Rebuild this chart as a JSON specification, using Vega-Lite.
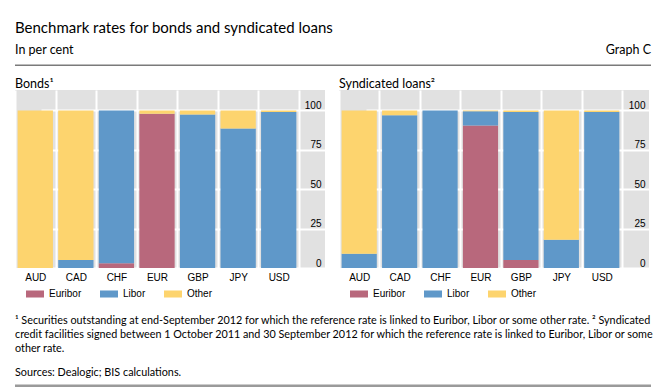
{
  "$schema": "https://vega.github.io/schema/vega-lite/v6.json",
  "padding": {"left": 15, "top": 20, "right": 5, "bottom": 0},
  "background": "white",
  "datasets": {
    "bonds": [
      {"currency": "AUD", "rate": "Euribor", "share": 0},
      {"currency": "AUD", "rate": "Libor", "share": 0},
      {"currency": "AUD", "rate": "Other", "share": 100},
      {"currency": "CAD", "rate": "Euribor", "share": 0},
      {"currency": "CAD", "rate": "Libor", "share": 5},
      {"currency": "CAD", "rate": "Other", "share": 95},
      {"currency": "CHF", "rate": "Euribor", "share": 3},
      {"currency": "CHF", "rate": "Libor", "share": 97},
      {"currency": "CHF", "rate": "Other", "share": 0},
      {"currency": "EUR", "rate": "Euribor", "share": 98},
      {"currency": "EUR", "rate": "Libor", "share": 0},
      {"currency": "EUR", "rate": "Other", "share": 2},
      {"currency": "GBP", "rate": "Euribor", "share": 0},
      {"currency": "GBP", "rate": "Libor", "share": 97.5},
      {"currency": "GBP", "rate": "Other", "share": 2.5},
      {"currency": "JPY", "rate": "Euribor", "share": 0},
      {"currency": "JPY", "rate": "Libor", "share": 88.5},
      {"currency": "JPY", "rate": "Other", "share": 11.5},
      {"currency": "USD", "rate": "Euribor", "share": 0},
      {"currency": "USD", "rate": "Libor", "share": 99},
      {"currency": "USD", "rate": "Other", "share": 1}
    ],
    "loans": [
      {"currency": "AUD", "rate": "Euribor", "share": 0},
      {"currency": "AUD", "rate": "Libor", "share": 9},
      {"currency": "AUD", "rate": "Other", "share": 91},
      {"currency": "CAD", "rate": "Euribor", "share": 0},
      {"currency": "CAD", "rate": "Libor", "share": 97},
      {"currency": "CAD", "rate": "Other", "share": 3},
      {"currency": "CHF", "rate": "Euribor", "share": 0},
      {"currency": "CHF", "rate": "Libor", "share": 100},
      {"currency": "CHF", "rate": "Other", "share": 0},
      {"currency": "EUR", "rate": "Euribor", "share": 90.5},
      {"currency": "EUR", "rate": "Libor", "share": 9},
      {"currency": "EUR", "rate": "Other", "share": 0.5},
      {"currency": "GBP", "rate": "Euribor", "share": 5},
      {"currency": "GBP", "rate": "Libor", "share": 94},
      {"currency": "GBP", "rate": "Other", "share": 1},
      {"currency": "JPY", "rate": "Euribor", "share": 0},
      {"currency": "JPY", "rate": "Libor", "share": 18},
      {"currency": "JPY", "rate": "Other", "share": 82},
      {"currency": "USD", "rate": "Euribor", "share": 0},
      {"currency": "USD", "rate": "Libor", "share": 99},
      {"currency": "USD", "rate": "Other", "share": 1}
    ]
  },
  "vconcat": [
    {
      "width": 636,
      "height": 24,
      "data": {"values": [{}]},
      "title": {"text": "Benchmark rates for bonds and syndicated loans", "anchor": "start", "font": "Lato", "fontSize": 15, "fontWeight": "normal", "color": "#000000", "offset": 6.5},
      "layer": [
        {
          "mark": {"type": "rect", "color": "#7a7a7a"},
          "encoding": {
            "x": {"datum": 0, "type": "quantitative", "scale": {"domain": [0, 1]}, "axis": null},
            "x2": {"datum": 1},
            "y": {"datum": 0, "type": "quantitative", "scale": {"domain": [0, 1]}, "axis": null},
            "y2": {"datum": 0.0625}
          }
        },
        {
          "mark": {"type": "text", "align": "left", "baseline": "alphabetic", "font": "Lato", "fontSize": 12.5, "color": "#000000"},
          "encoding": {
            "x": {"datum": 0, "type": "quantitative"},
            "y": {"datum": 0.5, "type": "quantitative"},
            "text": {"datum": "In per cent"}
          }
        },
        {
          "mark": {"type": "text", "align": "right", "baseline": "alphabetic", "font": "Lato", "fontSize": 12.5, "color": "#000000"},
          "encoding": {
            "x": {"datum": 1, "type": "quantitative"},
            "y": {"datum": 0.5, "type": "quantitative"},
            "text": {"datum": "Graph C"}
          }
        }
      ]
    },
    {
      "vconcat": [
        {
          "hconcat": [
            {
              "width": 310,
              "height": 178,
              "view": {"fill": "#e1e1e1", "stroke": null},
              "title": {"text": "Bonds¹", "anchor": "start", "font": "Lato", "fontSize": 12.5, "fontWeight": "normal", "color": "#000000", "offset": 0},
              "data": {"name": "bonds"},
              "mark": {"type": "bar", "width": {"band": 0.87}},
              "encoding": {
                "x": {"field": "currency", "type": "nominal", "scale": {"range": [0, 284], "paddingInner": 0, "paddingOuter": 0},
                  "axis": {"title": null, "labelAngle": 0, "tickBand": "extent", "ticks": false, "domain": false, "grid": true, "gridColor": "#ffffff", "gridWidth": 2, "labelFont": "Liberation Sans", "labelFontSize": 10, "labelColor": "#000000", "labelPadding": 4}},
                "y": {"field": "share", "type": "quantitative", "stack": "zero", "scale": {"domain": [0, 113], "nice": false},
                  "axis": {"orient": "right", "values": [0, 25, 50, 75, 100], "title": null, "domain": false, "ticks": false, "tickSize": 0, "labelAlign": "right", "labelPadding": -4, "labelBaseline": "alphabetic", "labelOffset": -2, "labelOverlap": false, "labelFont": "Liberation Sans", "labelFontSize": 10, "labelColor": "#000000", "gridColor": "#ffffff", "gridWidth": 2}},
                "color": {"field": "rate", "type": "nominal", "scale": {"domain": ["Euribor", "Libor", "Other"], "range": ["#b8687c", "#5f98c9", "#fdd46e"]},
                  "legend": {"orient": "bottom", "direction": "horizontal", "title": null, "symbolType": "M-1,-0.39H1V0.39H-1Z", "symbolSize": 324, "symbolStrokeWidth": 0, "labelFont": "Liberation Sans", "labelFontSize": 10, "labelColor": "#000000", "labelOffset": 5, "columnPadding": 18, "padding": 11, "offset": -8}},
                "order": {"field": "rate", "sort": "ascending"}
              }
            },
            {
              "width": 310,
              "height": 178,
              "view": {"fill": "#e1e1e1", "stroke": null},
              "title": {"text": "Syndicated loans²", "anchor": "start", "font": "Lato", "fontSize": 12.5, "fontWeight": "normal", "color": "#000000", "offset": 0},
              "data": {"name": "loans"},
              "mark": {"type": "bar", "width": {"band": 0.87}},
              "encoding": {
                "x": {"field": "currency", "type": "nominal", "scale": {"range": [0, 283], "paddingInner": 0, "paddingOuter": 0},
                  "axis": {"title": null, "labelAngle": 0, "tickBand": "extent", "ticks": false, "domain": false, "grid": true, "gridColor": "#ffffff", "gridWidth": 2, "labelFont": "Liberation Sans", "labelFontSize": 10, "labelColor": "#000000", "labelPadding": 4}},
                "y": {"field": "share", "type": "quantitative", "stack": "zero", "scale": {"domain": [0, 113], "nice": false},
                  "axis": {"orient": "right", "values": [0, 25, 50, 75, 100], "title": null, "domain": false, "ticks": false, "tickSize": 0, "labelAlign": "right", "labelPadding": -4, "labelBaseline": "alphabetic", "labelOffset": -2, "labelOverlap": false, "labelFont": "Liberation Sans", "labelFontSize": 10, "labelColor": "#000000", "gridColor": "#ffffff", "gridWidth": 2}},
                "color": {"field": "rate", "type": "nominal", "scale": {"domain": ["Euribor", "Libor", "Other"], "range": ["#b8687c", "#5f98c9", "#fdd46e"]},
                  "legend": {"orient": "bottom", "direction": "horizontal", "title": null, "symbolType": "M-1,-0.39H1V0.39H-1Z", "symbolSize": 324, "symbolStrokeWidth": 0, "labelFont": "Liberation Sans", "labelFontSize": 10, "labelColor": "#000000", "labelOffset": 5, "columnPadding": 18, "padding": 11, "offset": -8}},
                "order": {"field": "rate", "sort": "ascending"}
              }
            }
          ],
          "spacing": 14,
          "resolve": {"legend": {"color": "independent"}, "scale": {"x": "independent", "y": "independent"}}
        },
        {
          "width": 636,
          "height": 72,
          "data": {"values": [{}]},
          "layer": [
            {
              "mark": {"type": "rect", "color": "#9a9a9a"},
              "encoding": {
                "x": {"datum": 0, "type": "quantitative", "scale": {"domain": [0, 1]}, "axis": null},
                "x2": {"datum": 1},
                "y": {"datum": 0, "type": "quantitative", "scale": {"domain": [0, 1]}, "axis": null},
                "y2": {"datum": 0.035}
              }
            },
            {
              "mark": {"type": "text", "align": "left", "baseline": "top", "font": "Lato", "fontSize": 10.8, "color": "#000000", "lineBreak": "\n", "lineHeight": 14.2},
              "encoding": {
                "x": {"datum": 0, "type": "quantitative"},
                "y": {"datum": 1, "type": "quantitative"},
                "text": {"datum": "¹  Securities outstanding at end-September 2012 for which the reference rate is linked to Euribor, Libor or some other rate.    ²  Syndicated\ncredit facilities signed between 1 October 2011 and 30 September 2012 for which the reference rate is linked to Euribor, Libor or some\nother rate."}
              }
            },
            {
              "mark": {"type": "text", "align": "left", "baseline": "alphabetic", "font": "Lato", "fontSize": 10.8, "color": "#000000", "dy": -11},
              "encoding": {
                "x": {"datum": 0, "type": "quantitative"},
                "y": {"datum": 0, "type": "quantitative"},
                "text": {"datum": "Sources: Dealogic; BIS calculations."}
              }
            }
          ]
        }
      ],
      "spacing": 5
    }
  ],
  "spacing": 11,
  "config": {
    "view": {"stroke": null},
    "font": "Lato"
  }
}
